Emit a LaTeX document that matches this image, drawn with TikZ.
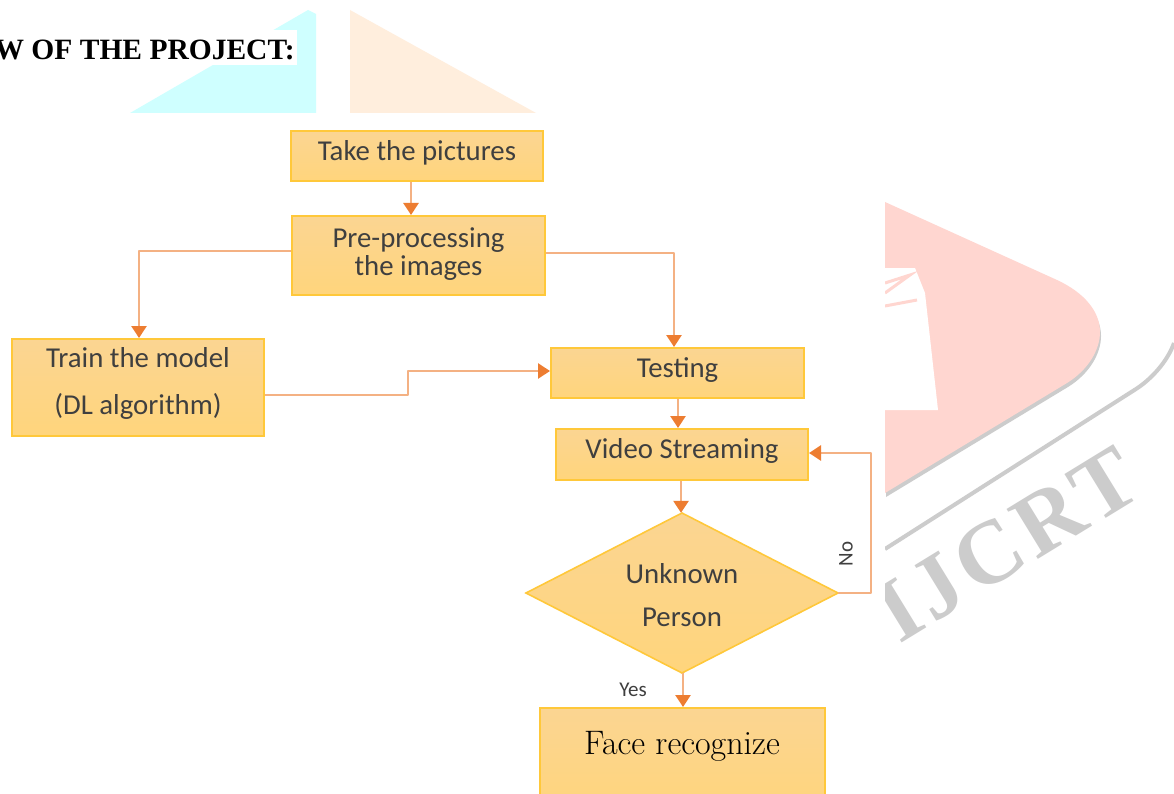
\documentclass[tikz,border=0pt]{standalone}
\usepackage{fontspec}
\setmainfont{Carlito}
\newfontfamily\titlefont{Liberation Serif}
\newfontfamily\wmfont[LetterSpace=6]{Liberation Serif}
\newfontfamily\facefont{Latin Modern Roman}
\usetikzlibrary{arrows.meta}
\definecolor{boxedge}{HTML}{FFC83A}
\definecolor{boxtop}{HTML}{FBD592}
\definecolor{boxbot}{HTML}{FFD57C}
\definecolor{linkc}{HTML}{F4B183}
\definecolor{tipc}{HTML}{ED7D31}
\definecolor{inkc}{HTML}{3F3F3F}
\definecolor{wmred}{HTML}{FFD6D0}
\definecolor{wmgray}{HTML}{CCCCCC}
\definecolor{wmcyan}{HTML}{CFFFFF}
\definecolor{wmpeach}{HTML}{FFEEDD}
\newcommand{\lift}[2]{\raisebox{#1pt}[0pt][0pt]{\begin{tabular}[t]{@{}c@{}}#2\end{tabular}}}
\newcommand{\redshape}{(885,202) -- (1057,280) .. controls (1085,293) and (1100,312) .. (1100,332) .. controls (1100,350) and (1088,370) .. (1067,383) -- (885,493) -- cycle}
\tikzset{
  x=1pt,y=-1pt,
  flowbox/.style={draw=boxedge,line width=2pt,top color=boxtop,bottom color=boxbot,rectangle,inner sep=0pt,text=inkc,font=\fontsize{28.8}{29}\selectfont},
  flowdec/.style={flowbox,line width=1.6pt},
  link/.style={draw=linkc,line width=2.7pt,line join=round,-{Triangle[width=15pt,length=12pt,color=tipc,fill=tipc]}},
  tag/.style={inner sep=0pt,text=inkc,font=\fontsize{21}{24}\selectfont},
}
\begin{document}
\begin{tikzpicture}
\path[use as bounding box,clip] (0,0) rectangle (1174,794);
\fill[white] (0,0) rectangle (1174,794);
% watermark, left part
\fill[wmcyan] (130,113) -- (308,10) -- (316,14) -- (316,113) -- cycle;
\fill[wmpeach] (350,113) -- (350,10) -- (536,113) -- cycle;
\begin{scope}
\clip (885,0) rectangle (1174,794);
\begin{scope}[shift={(1,4)}]
\fill[wmgray] \redshape;
\end{scope}
\fill[wmred] \redshape;
\fill[white] (885,268) -- (915,268) -- (925,293) -- (938,410) -- (885,410) -- cycle;
\draw[wmred,line width=3pt] (885,283) -- (910,275) -- (885,293);
\draw[wmred,line width=3pt] (885,306) -- (917,300);
\draw[wmgray,line width=4pt] (885,549) -- (1136,389) .. controls (1153,378) and (1168,360) .. (1174,343);
\node[wmgray,rotate=31.5,inner sep=0pt,font=\fontsize{90}{96}\wmfont\bfseries] (wm) at (1007,544) {IJCRT};
\end{scope}
% title
\fill[white] (0,30) rectangle (297,65);
\node[anchor=base east,inner sep=0pt,font=\fontsize{29.5}{32}\titlefont\bfseries] (title) at (295,60) {W OF THE PROJECT:};
% boxes
\node[flowbox,minimum width=252pt,minimum height=50pt] (take) at (417,156) {\lift{-5}{Take the pictures}};
\node[flowbox,minimum width=253pt,minimum height=79pt] (pre) at (418.5,255.5) {\lift{8.5}{Pre-processing\\[-1pt]the images}};
\node[flowbox,minimum width=252pt,minimum height=97pt] (train) at (138,387.5) {\lift{20.5}{Train the model\\[18pt](DL algorithm)}};
\node[flowbox,minimum width=253pt,minimum height=50pt] (test) at (677.5,373) {\lift{-4}{Testing}};
\node[flowbox,minimum width=252pt,minimum height=51pt] (video) at (682,454.5) {\lift{-3.5}{Video Streaming}};
\path[flowdec] (526,593) -- (682,513) -- (838,593) -- (682,673) -- cycle;
\node[inner sep=0pt,minimum width=312pt,minimum height=160pt,text=inkc,font=\fontsize{28.8}{29}\selectfont] (dec) at (682,593) {\lift{10}{Unknown\\[14pt]Person}};
\node[flowbox,minimum width=285pt,minimum height=104pt] (face) at (682,760) {\lift{6}{\fontsize{34}{36}\facefont\color{black}Face recognize}};
% connectors
\coordinate (ca) at (411,0);
\coordinate (cb) at (139,251);
\coordinate (cc) at (674,253);
\coordinate (cd) at (408,395);
\coordinate (ce) at (408,371);
\coordinate (cf) at (678,0);
\coordinate (cg) at (681,0);
\coordinate (ch) at (871,593);
\coordinate (ci) at (871,453);
\coordinate (cj) at (683,0);
\draw[link] (take.south -| ca) -- (pre.north -| ca);
\draw[link] (pre.west |- cb) -- (cb) -- (train.north -| cb);
\draw[link] (pre.east |- cc) -- (cc) -- (test.north -| cc);
\draw[link] (train.east |- cd) -- (cd) -- (ce) -- (test.west |- ce);
\draw[link] (test.south -| cf) -- (video.north -| cf);
\draw[link] (video.south -| cg) -- (dec.north -| cg);
\draw[link] (dec.east) -- (ch) -- (ci) -- (video.east |- ci);
\draw[link] (dec.south -| cj) -- (face.north -| cj);
% branch labels
\node[tag,rotate=90] (no) at (846,554) {No};
\node[tag] (yes) at (633,690) {Yes};
\end{tikzpicture}
\end{document}
